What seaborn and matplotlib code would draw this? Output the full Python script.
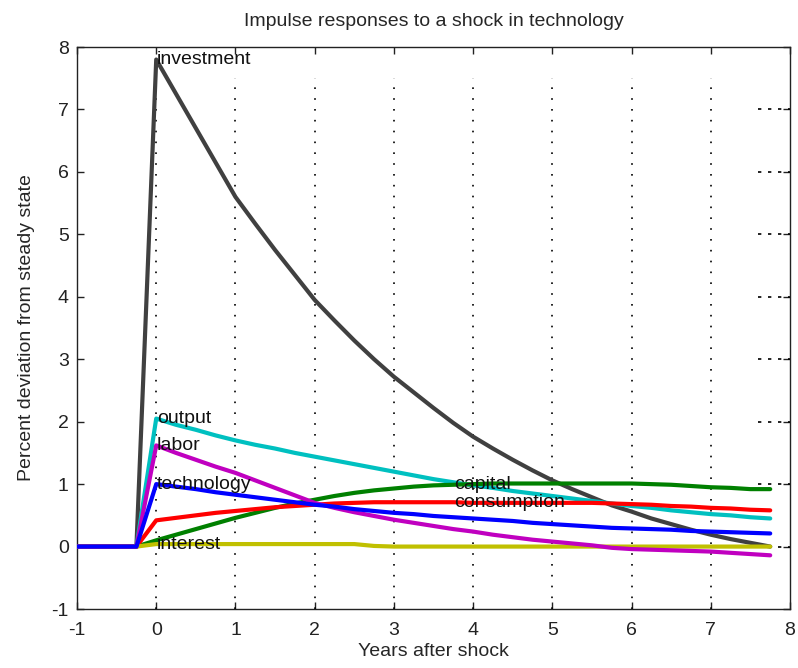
import numpy as np
import pandas as pd
import matplotlib
matplotlib.use("Agg")
import matplotlib.pyplot as plt
import seaborn as sns

# quarters, from one year before the shock to 7.75 years after
years = np.arange(-1, 8, 0.25)
pre = [0.0, 0.0, 0.0, 0.0]

investment = pre + [7.80, 7.25, 6.70, 6.15, 5.60, 5.17, 4.75, 4.35, 3.95, 3.62, 3.30, 3.00,
                    2.72, 2.47, 2.22, 1.98, 1.76, 1.57, 1.39, 1.22, 1.06, 0.92, 0.79, 0.66,
                    0.56, 0.45, 0.36, 0.27, 0.19, 0.12, 0.06, 0.00]
output = pre + [2.05, 1.95, 1.87, 1.78, 1.70, 1.63, 1.57, 1.50, 1.44, 1.38, 1.32, 1.26,
                1.20, 1.14, 1.08, 1.03, 0.98, 0.94, 0.89, 0.85, 0.81, 0.77, 0.73, 0.69,
                0.65, 0.62, 0.58, 0.55, 0.52, 0.50, 0.47, 0.45]
labor = pre + [1.62, 1.50, 1.39, 1.28, 1.18, 1.06, 0.94, 0.82, 0.70, 0.62, 0.55, 0.49,
               0.43, 0.38, 0.33, 0.28, 0.24, 0.19, 0.15, 0.11, 0.08, 0.05, 0.02, -0.02,
               -0.04, -0.05, -0.06, -0.07, -0.08, -0.10, -0.12, -0.14]
technology = pre + [1.00, 0.96, 0.92, 0.87, 0.83, 0.79, 0.75, 0.71, 0.67, 0.64, 0.60, 0.57,
                    0.54, 0.52, 0.49, 0.47, 0.45, 0.43, 0.41, 0.38, 0.36, 0.34, 0.32, 0.30,
                    0.29, 0.28, 0.27, 0.25, 0.24, 0.23, 0.22, 0.21]
capital = pre + [0.10, 0.19, 0.28, 0.37, 0.46, 0.54, 0.62, 0.69, 0.75, 0.81, 0.86, 0.90,
                 0.93, 0.96, 0.98, 0.99, 1.00, 1.01, 1.01, 1.01, 1.01, 1.01, 1.01, 1.01,
                 1.01, 1.00, 0.99, 0.97, 0.95, 0.94, 0.92, 0.92]
consumption = pre + [0.42, 0.46, 0.50, 0.54, 0.57, 0.60, 0.63, 0.65, 0.67, 0.69, 0.70, 0.71,
                     0.71, 0.71, 0.71, 0.71, 0.70, 0.70, 0.70, 0.70, 0.70, 0.70, 0.70, 0.69,
                     0.68, 0.67, 0.65, 0.64, 0.62, 0.61, 0.59, 0.58]
interest = pre + [0.04, 0.04, 0.04, 0.04, 0.04, 0.04, 0.04, 0.04, 0.04, 0.04, 0.04, 0.01,
                  0.00, 0.00, 0.00, 0.00, 0.00, 0.00, 0.00, 0.00, 0.00, 0.00, 0.00, 0.00,
                  0.00, 0.00, 0.00, 0.00, 0.00, 0.00, 0.00, 0.00]

series = {
    "investment": investment,
    "output": output,
    "capital": capital,
    "consumption": consumption,
    "interest": interest,
    "labor": labor,
    "technology": technology,
}
colors = {
    "investment": "#404040",
    "output": "#00c0c0",
    "capital": "#008000",
    "consumption": "#ff0000",
    "interest": "#c0c000",
    "labor": "#c000c0",
    "technology": "#0000ff",
}
# where each name is written: the quarter index of the point it sits on
label_at = {"investment": 4, "output": 4, "labor": 4, "technology": 4,
            "interest": 4, "capital": 19, "consumption": 19}

df = pd.DataFrame([{"year": y, "value": v, "variable": k}
                   for k, vals in series.items() for y, v in zip(years, vals)])

sns.set_style("ticks")
plt.rcParams["font.family"] = ["Liberation Sans", "DejaVu Sans"]
plt.rcParams["axes.unicode_minus"] = False

fig = plt.figure(figsize=(7.98, 6.68), dpi=100)
ax = fig.add_axes([0.0965, 0.0883, 0.8935, 0.8413])

# dotted grid, like the original
ax.vlines(range(0, 8), -1, 7.5, colors="black", linewidth=1.2,
          linestyles=(0, (1, 5.5)), zorder=1)
ax.hlines(range(0, 8), 7.6, 8, colors="black", linewidth=1.2,
          linestyles=(0, (2, 4)), zorder=1)

sns.lineplot(data=df, x="year", y="value", hue="variable",
             hue_order=list(series), palette=colors, linewidth=3,
             legend=False, ax=ax, zorder=3)

for name, i in label_at.items():
    ax.text(years[i] + 0.01, series[name][i], name, fontsize=14,
            va="center", ha="left", color="#111111", zorder=4)

ax.set_xlim(-1, 8)
ax.set_ylim(-1, 8)
ax.set_xticks(range(-1, 9))
ax.set_yticks(range(-1, 9))
ax.tick_params(direction="in", top=True, right=True, labelsize=14,
               length=5, width=1, colors="#222222", pad=6)
ax.tick_params(axis="x", pad=9)
for s in ax.spines.values():
    s.set_visible(True)
    s.set_linewidth(1)
    s.set_color("#222222")

ax.set_title("Impulse responses to a shock in technology", fontsize=14, pad=15)
ax.set_xlabel("Years after shock", fontsize=14, labelpad=3)
ax.set_ylabel("Percent deviation from steady state", fontsize=14, labelpad=12)

fig.savefig("out.png", dpi=100)
